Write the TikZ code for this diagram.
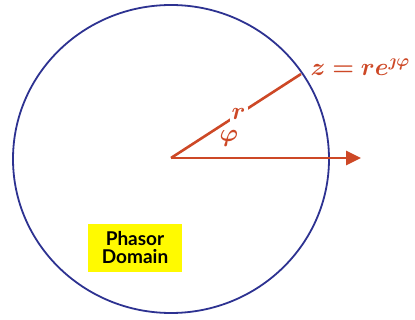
\documentclass[tikz,border=0pt]{standalone}
\usepackage{amsmath}
\usepackage{bm}
\usepackage{fontspec}
\setsansfont{Lato}
\usetikzlibrary{arrows.meta,calc}
\definecolor{phred}{RGB}{205,72,38}
\definecolor{phblue}{RGB}{45,50,145}
\definecolor{phyellow}{RGB}{255,250,0}
\tikzset{
  circ/.style={draw=phblue, line width=1.8pt},
  vec/.style={draw=phred, line width=2.6pt},
  lab/.style={text=phred, font=\fontsize{24}{26}\selectfont},
  box/.style={fill=phyellow, font=\sffamily\bfseries\fontsize{19}{18}\selectfont, align=center, inner sep=0pt, minimum width=94pt, minimum height=48pt}
}
\begin{document}
\begin{tikzpicture}[x=1pt,y=-1pt]
\useasboundingbox (0,0) rectangle (415,320);
\coordinate (O) at (171,158);
\coordinate (P) at (301,74);
\coordinate (E) at (361,158);
\draw[circ] (171,159) ellipse [x radius=158, y radius=154];
\draw[vec, -{Triangle[length=15pt,width=14pt]}] (O) -- (E);
\draw[vec] (O) -- (P);
\node[lab, fill=white, inner sep=2pt] (r) at ($(O)!0.52!(P)$) {$\bm{r}$};
\node[lab] (phi) at (229,138) {$\bm{\varphi}$};
\node[lab, anchor=base west] (z) at (307,76) {$\bm{z = r e^{\jmath\varphi}}$};
\node[box] (dom) at (135,248) {Phasor\\Domain};
\end{tikzpicture}
\end{document}
